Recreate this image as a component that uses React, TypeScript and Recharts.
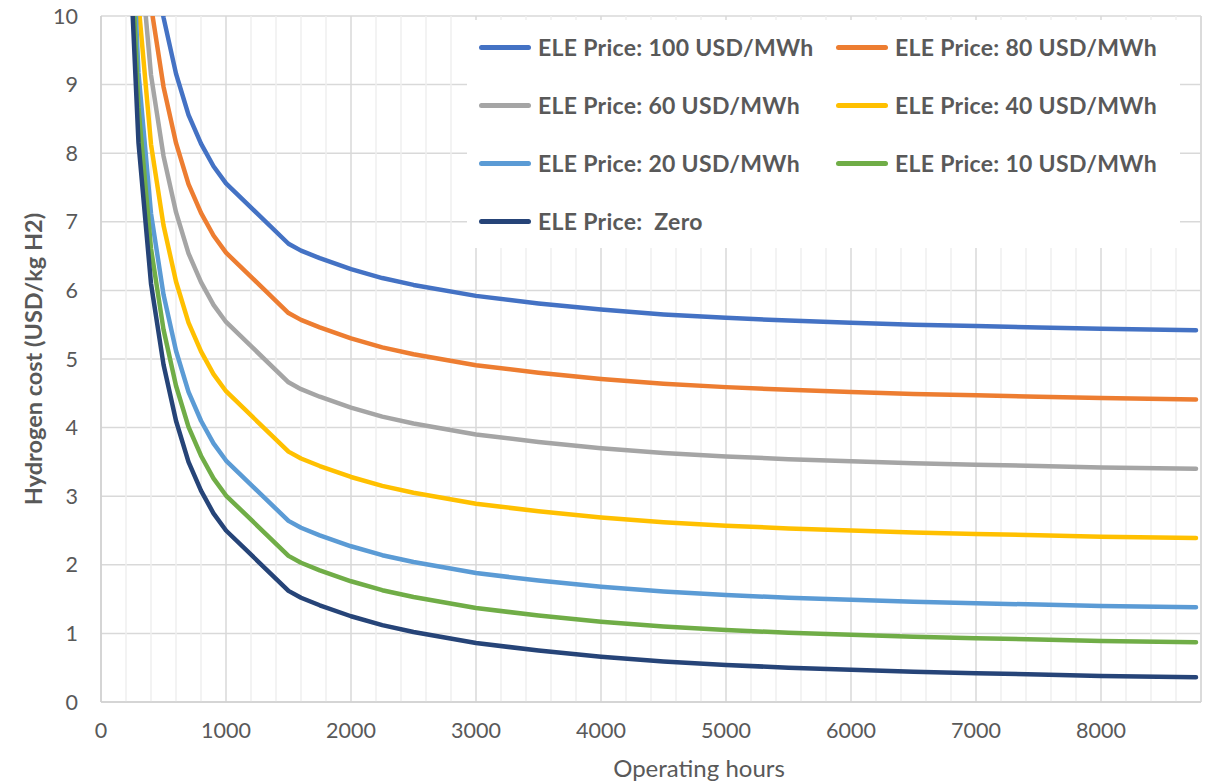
import { LineChart, Line, XAxis, YAxis, CartesianGrid, ReferenceLine } from "recharts";

// operating hours (x) and hydrogen cost in USD/kg H2 per electricity price
const hours = [200, 300, 400, 500, 600, 700, 800, 900, 1000, 1500, 1600, 1750, 2000, 2250, 2500, 3000, 3500, 4000, 4500, 5000, 5500, 6000, 6500, 7000, 7500, 8000, 8760];

const price100 = [17.21, 13.21, 11.16, 9.98, 9.16, 8.56, 8.14, 7.81, 7.56, 6.68, 6.58, 6.47, 6.31, 6.18, 6.08, 5.92, 5.81, 5.72, 5.65, 5.6, 5.56, 5.53, 5.5, 5.48, 5.46, 5.44, 5.42];
const price80 = [16.2, 12.2, 10.15, 8.97, 8.15, 7.55, 7.13, 6.8, 6.55, 5.67, 5.57, 5.46, 5.3, 5.17, 5.07, 4.91, 4.8, 4.71, 4.64, 4.59, 4.55, 4.52, 4.49, 4.47, 4.45, 4.43, 4.41];
const price60 = [15.19, 11.19, 9.14, 7.96, 7.14, 6.54, 6.12, 5.79, 5.54, 4.66, 4.56, 4.45, 4.29, 4.16, 4.06, 3.9, 3.79, 3.7, 3.63, 3.58, 3.54, 3.51, 3.48, 3.46, 3.44, 3.42, 3.4];
const price40 = [14.18, 10.18, 8.13, 6.95, 6.13, 5.53, 5.11, 4.78, 4.53, 3.65, 3.55, 3.44, 3.28, 3.15, 3.05, 2.89, 2.78, 2.69, 2.62, 2.57, 2.53, 2.5, 2.47, 2.45, 2.43, 2.41, 2.39];
const price20 = [13.17, 9.17, 7.12, 5.94, 5.12, 4.52, 4.1, 3.77, 3.52, 2.64, 2.54, 2.43, 2.27, 2.14, 2.04, 1.88, 1.77, 1.68, 1.61, 1.56, 1.52, 1.49, 1.46, 1.44, 1.42, 1.4, 1.38];
const price10 = [12.66, 8.66, 6.61, 5.43, 4.61, 4.01, 3.59, 3.26, 3.01, 2.13, 2.03, 1.92, 1.76, 1.63, 1.53, 1.37, 1.26, 1.17, 1.1, 1.05, 1.01, 0.98, 0.95, 0.93, 0.91, 0.89, 0.87];
const priceZero = [12.15, 8.15, 6.1, 4.92, 4.1, 3.5, 3.08, 2.75, 2.5, 1.62, 1.52, 1.41, 1.25, 1.12, 1.02, 0.86, 0.75, 0.66, 0.59, 0.54, 0.5, 0.47, 0.44, 0.42, 0.4, 0.38, 0.36];

const xTicks = [0, 1000, 2000, 3000, 4000, 5000, 6000, 7000, 8000];
const xMinor = [200, 400, 600, 800, 1200, 1400, 1600, 1800, 2200, 2400, 2600, 2800, 3200, 3400, 3600, 3800, 4200, 4400, 4600, 4800, 5200, 5400, 5600, 5800, 6200, 6400, 6600, 6800, 7200, 7400, 7600, 7800, 8200, 8400, 8600];
const yTicks = [0, 1, 2, 3, 4, 5, 6, 7, 8, 9, 10];

const series = [
  { key: "p100", name: "ELE Price: 100 USD/MWh", color: "#4472C4", values: price100 },
  { key: "p80", name: "ELE Price: 80 USD/MWh", color: "#ED7D31", values: price80 },
  { key: "p60", name: "ELE Price: 60 USD/MWh", color: "#A5A5A5", values: price60 },
  { key: "p40", name: "ELE Price: 40 USD/MWh", color: "#FFC000", values: price40 },
  { key: "p20", name: "ELE Price: 20 USD/MWh", color: "#5B9BD5", values: price20 },
  { key: "p10", name: "ELE Price: 10 USD/MWh", color: "#70AD47", values: price10 },
  { key: "p0", name: "ELE Price:  Zero", color: "#264478", values: priceZero },
];

const data = hours.map((h, i) => {
  const row: any = { hours: h };
  series.forEach((s) => (row[s.key] = s.values[i]));
  return row;
});

const FONT = "Lato, 'Open Sans', sans-serif";
const TEXT = "#595959";

function ChartLegend() {
  return (
    <div
      style={{
        position: "absolute",
        left: 467,
        top: 20,
        width: 713,
        height: 228,
        background: "#fff",
      }}
    >
      {series.map((s, i) => {
        const col = i % 2;
        const row = Math.floor(i / 2);
        return (
          <div
            key={s.key}
            style={{
              position: "absolute",
              left: col === 0 ? 12 : 369,
              top: 27 + row * 58 - 15,
              height: 30,
              display: "flex",
              alignItems: "center",
              whiteSpace: "pre",
            }}
          >
            <div style={{ width: 52, height: 5, borderRadius: 3, background: s.color, marginRight: 7 }} />
            <span style={{ fontFamily: FONT, fontWeight: 700, fontSize: 23, letterSpacing: 0.3, color: TEXT }}>{s.name}</span>
          </div>
        );
      })}
    </div>
  );
}

export default function App() {
  return (
    <div style={{ position: "absolute", left: 0, top: 0, width: 1213, height: 782, background: "#fff" }}>
      <LineChart width={1213} height={782} data={data} margin={{ top: 16, right: 12, bottom: 0, left: 0 }}>
        {xMinor.map((v) => (
          <ReferenceLine key={v} x={v} stroke="#efefef" strokeWidth={1.5} />
        ))}
        <CartesianGrid stroke="#d9d9d9" strokeWidth={1.5} />
        <ReferenceLine x={8800} stroke="#d9d9d9" strokeWidth={1.5} />
        <XAxis
          dataKey="hours"
          type="number"
          domain={[0, 8800]}
          ticks={xTicks}
          height={80}
          tickLine={false}
          tickSize={0}
          tickMargin={21}
          axisLine={{ stroke: "#d0d0d0", strokeWidth: 1.5 }}
          tick={{ fill: TEXT, fontSize: 21.5, fontFamily: FONT }}
          label={{
            content: () => (
              <text x={699} y={767} textAnchor="middle" dominantBaseline="central" fill={TEXT} fontSize={24} fontFamily={FONT}>
                Operating hours
              </text>
            ),
          }}
        />
        <YAxis
          type="number"
          domain={[0, 10]}
          ticks={yTicks}
          allowDataOverflow
          width={101}
          tickLine={false}
          tickSize={0}
          tickMargin={23}
          axisLine={{ stroke: "#d0d0d0", strokeWidth: 1.5 }}
          tick={{ fill: TEXT, fontSize: 21.5, fontFamily: FONT }}
          label={{
            content: () => (
              <text
                x={33}
                y={359}
                transform="rotate(-90, 33, 359)"
                textAnchor="middle"
                dominantBaseline="central"
                fill={TEXT}
                fontSize={23.5}
                fontWeight={700}
                fontFamily={FONT}
              >
                Hydrogen cost (USD/kg H2)
              </text>
            ),
          }}
        />
        {series.map((s) => (
          <Line
            key={s.key}
            dataKey={s.key}
            name={s.name}
            type="linear"
            stroke={s.color}
            strokeWidth={4.5}
            strokeLinecap="round"
            strokeLinejoin="round"
            dot={false}
            activeDot={false}
            isAnimationActive={false}
          />
        ))}
      </LineChart>
      <ChartLegend />
    </div>
  );
}
